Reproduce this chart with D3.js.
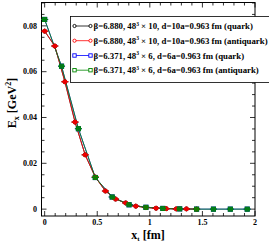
<!DOCTYPE html>
<html><head><meta charset="utf-8">
<script src="https://cdn.jsdelivr.net/npm/d3@7"></script>
<style>body{margin:0;background:#fff}svg{display:block}</style>
</head><body>
<script>
// Data
const xQuarkA = [0, 0.0963, 0.1926, 0.2889, 0.3852, 0.4815, 0.5778, 0.6741, 0.7704, 0.8667, 0.963, 1.0593, 1.1556, 1.2519, 1.3482, 1.4445];
const yQuarkA = [0.0777, 0.0712, 0.0556, 0.0380, 0.0237, 0.0140, 0.0079, 0.0044, 0.0027, 0.0013, 0.0007, 0.0004, 0.0002, 0.0001, 0.0001, 0.0000];
const yAntiA  = [0.0777, 0.0712, 0.0556, 0.0380, 0.0237, 0.0140, 0.0079, 0.0044, 0.0027, 0.0013, 0.0007, 0.0004, 0.0002, 0.0001, 0.0001, 0.0000];
const xQuarkB = [0, 0.1605, 0.321, 0.4815, 0.642, 0.8025, 0.963, 1.1235, 1.284, 1.4445, 1.605, 1.7655, 1.926];
const yQuarkB = [0.0828, 0.0624, 0.0351, 0.0138, 0.0053, 0.0019, 0.0008, 0.0003, 0.0001, 0.0000, 0.0000, 0.0000, 0.0000];
const yAntiB  = [0.0828, 0.0624, 0.0351, 0.0138, 0.0053, 0.0019, 0.0008, 0.0003, 0.0001, 0.0000, 0.0000, 0.0000, 0.0000];
const xTicks = [0, 0.5, 1, 1.5, 2];
const xTickLabels = ["0", "0.5", "1", "1.5", "2"];
const yTicks = [0, 0.02, 0.04, 0.06, 0.08];
const yTickLabels = ["0", "0.02", "0.04", "0.06", "0.08"];
const legendLabels = [
  ["β=6.880, 48", " × 10, d=10a=0.963 fm (quark)"],
  ["β=6.880, 48", " × 10, d=10a=0.963 fm (antiquark)"],
  ["β=6.371, 48", " × 6, d=6a=0.963 fm (quark)"],
  ["β=6.371, 48", " × 6, d=6a=0.963 fm (antiquark)"]
];
const colors = ["#000000", "#ff0000", "#0000ff", "#008800"];
const shapes = ["circle", "circle", "square", "square"];

const W = 269, H = 243;
const svg = d3.select("body").append("svg").attr("width", W).attr("height", H);
const L = 41.5, R = 255, T = 2.5, B = 216;
const x = d3.scaleLinear().domain([-0.03, 2.0]).range([L, R]);
const y = d3.scaleLinear().domain([-0.003, 0.0902]).range([B, T]);
const font = "'Liberation Serif','Times New Roman',serif";

// frame
svg.append("rect").attr("x", L).attr("y", T).attr("width", R - L).attr("height", B - T)
  .attr("fill", "none").attr("stroke", "#000").attr("stroke-width", 1);

// ticks (inward) on all four sides
const xMinor = d3.range(0, 2.0001, 0.1);
const yMinor = d3.range(0, 0.0901, 0.005);
const tg = svg.append("g").attr("stroke", "#000").attr("stroke-width", 0.8);
xMinor.forEach(v => {
  const major = xTicks.some(t => Math.abs(t - v) < 1e-6);
  const len = major ? 5 : 3;
  tg.append("line").attr("x1", x(v)).attr("x2", x(v)).attr("y1", B).attr("y2", B - len);
  tg.append("line").attr("x1", x(v)).attr("x2", x(v)).attr("y1", T).attr("y2", T + len);
});
yMinor.forEach(v => {
  const major = yTicks.some(t => Math.abs(t - v) < 1e-6);
  const len = major ? 5 : 3;
  tg.append("line").attr("y1", y(v)).attr("y2", y(v)).attr("x1", L).attr("x2", L + len);
  tg.append("line").attr("y1", y(v)).attr("y2", y(v)).attr("x1", R).attr("x2", R - len);
});

// tick labels
xTicks.forEach((v, i) => {
  svg.append("text").attr("x", x(v)).attr("y", 225).attr("text-anchor", "middle")
    .attr("font-family", font).attr("font-weight", "bold").attr("font-size", 8).text(xTickLabels[i]);
});
yTicks.forEach((v, i) => {
  svg.append("text").attr("x", 37).attr("y", y(v) + 2.8).attr("text-anchor", "end")
    .attr("font-family", font).attr("font-weight", "bold").attr("font-size", 8).text(yTickLabels[i]);
});

// axis labels
const xl = svg.append("text").attr("x", 148).attr("y", 239).attr("text-anchor", "middle")
  .attr("font-family", font).attr("font-weight", "bold").attr("font-size", 12);
xl.append("tspan").text("x");
xl.append("tspan").attr("font-size", 7).attr("dy", 2).text("t");
xl.append("tspan").attr("dy", -2).text(" [fm]");

const yl = svg.append("text").attr("transform", "translate(16,103) rotate(-90)").attr("text-anchor", "middle")
  .attr("font-family", font).attr("font-weight", "bold").attr("font-size", 12);
yl.append("tspan").text("E");
yl.append("tspan").attr("font-size", 8).attr("dy", 3).text("x");
yl.append("tspan").attr("dy", -3).text(" [GeV");
yl.append("tspan").attr("font-size", 8).attr("dy", -5).text("2");
yl.append("tspan").attr("dy", 5).text("]");

// series
const series = [
  {xs: xQuarkA, ys: yQuarkA, c: colors[0], s: shapes[0]},
  {xs: xQuarkB, ys: yQuarkB, c: colors[2], s: shapes[2]},
  {xs: xQuarkA, ys: yAntiA, c: colors[1], s: shapes[1]},
  {xs: xQuarkB, ys: yAntiB, c: colors[3], s: shapes[3]}
];
const line = d3.line().x(d => x(d[0])).y(d => y(d[1]));
const plot = svg.append("g");
series.forEach(sr => {
  const pts = sr.xs.map((v, i) => [v, sr.ys[i]]);
  plot.append("path").attr("d", line(pts)).attr("fill", "none").attr("stroke", sr.c).attr("stroke-width", 0.8);
});
series.forEach(sr => {
  const pts = sr.xs.map((v, i) => [v, sr.ys[i]]);
  pts.forEach(p => {
    if (sr.s === "circle") {
      plot.append("circle").attr("cx", x(p[0])).attr("cy", y(p[1])).attr("r", 2.0)
        .attr("fill", sr.c).attr("fill-opacity", 0.8).attr("stroke", sr.c).attr("stroke-width", 1.0);
    } else {
      plot.append("rect").attr("x", x(p[0]) - 2.1).attr("y", y(p[1]) - 2.1).attr("width", 4.2).attr("height", 4.2)
        .attr("fill", sr.c).attr("fill-opacity", 0.8).attr("stroke", sr.c).attr("stroke-width", 0.9);
    }
    plot.append("line").attr("x1", x(p[0]) - 3.5).attr("x2", x(p[0]) + 3.5).attr("y1", y(p[1])).attr("y2", y(p[1]))
      .attr("stroke", sr.c).attr("stroke-width", 1);
  });
});

// legend
const lg = svg.append("g");
lg.append("rect").attr("x", 70.5).attr("y", 16.5).attr("width", 205).attr("height", 66)
  .attr("fill", "#fff").attr("stroke", "#000").attr("stroke-width", 0.8);
const rowY = [26, 40.7, 55.5, 70.2];
legendLabels.forEach((lab, i) => {
  const yy = rowY[i];
  lg.append("line").attr("x1", 74.5).attr("x2", 90.5).attr("y1", yy).attr("y2", yy).attr("stroke", colors[i]).attr("stroke-width", 0.8);
  [74.5, 90.5].forEach(xx => {
    if (shapes[i] === "circle") {
      lg.append("circle").attr("cx", xx).attr("cy", yy).attr("r", 1.6).attr("fill", "#fff").attr("stroke", colors[i]).attr("stroke-width", 0.9);
    } else {
      lg.append("rect").attr("x", xx - 1.7).attr("y", yy - 1.7).attr("width", 3.4).attr("height", 3.4).attr("fill", "#fff").attr("stroke", colors[i]).attr("stroke-width", 0.9);
    }
  });
  const t = lg.append("text").attr("x", 93.5).attr("y", yy + 3).attr("font-family", font).attr("font-weight", "bold").attr("font-size", 8.8);
  t.append("tspan").text(lab[0]);
  t.append("tspan").attr("font-size", 5.5).attr("dy", -3.5).text("3");
  t.append("tspan").attr("dy", 3.5).text(lab[1]);
});
</script>
</body></html>
